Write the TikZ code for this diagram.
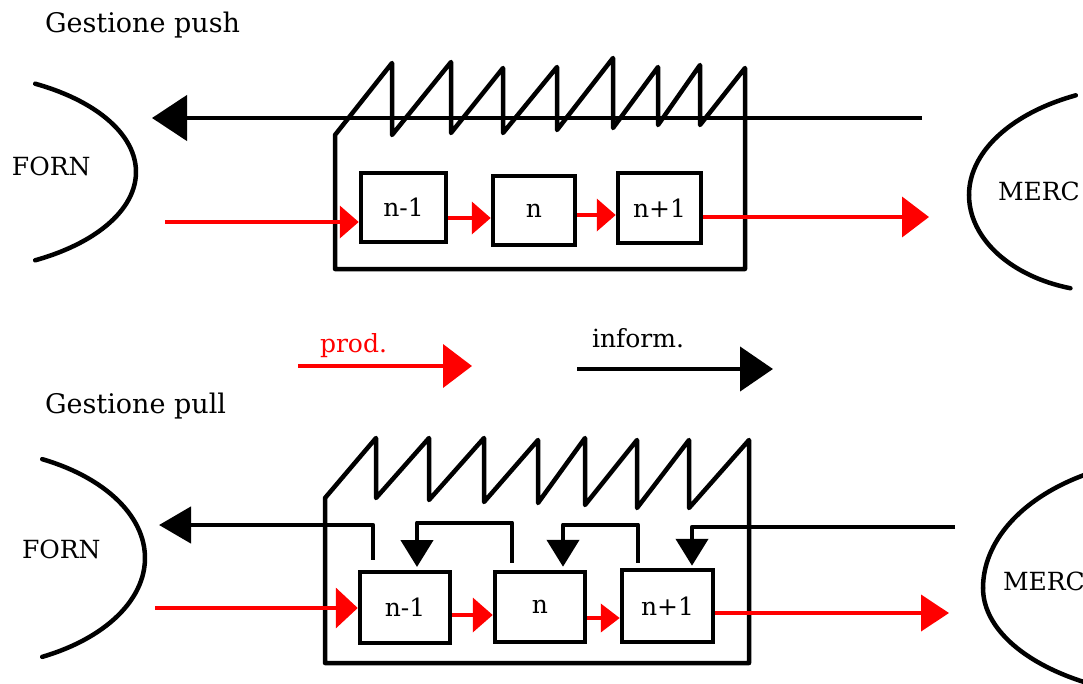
\documentclass[tikz,border=0pt]{standalone}
\usepackage{fontspec}
\setmainfont{DejaVu Serif}
\usetikzlibrary{arrows.meta}
\begin{document}
\begin{tikzpicture}[x=1pt,y=-1pt,
  every node/.style={font=\fontsize{25}{30}\selectfont, inner sep=0pt, outer sep=0pt},
  title/.style={anchor=base west, font=\fontsize{27}{32}\selectfont},
  wire/.style={line width=4.5pt, line join=round, line cap=round},
  stagebox/.style={draw, line width=4.5pt, inner sep=0pt, outer sep=2.25pt},
  prod/.style={draw=red, line width=4pt},
  info/.style={draw=black, line width=4.5pt, line join=round},
  ptipS/.style={-{Triangle[length=19pt,width=32pt]}},
  ptipL/.style={-{Triangle[length=27pt,width=40pt]}},
  itipS/.style={-{Triangle[length=27pt,width=32pt]}}]

\useasboundingbox (0,0) rectangle (1083,683);
\clip (0,0) rectangle (1083,683);

% ---------- titles and legend ----------
\node[title] (tpush) at (45,32) {Gestione push};
\node[title] (tpull) at (45,413) {Gestione pull};
\node[anchor=base west, text=red] (lprod) at (320,352) {prod.};
\node[anchor=base west] (linfo) at (592,347) {inform.};
\coordinate (lp1) at (298,366);
\coordinate (lp2) at (472,366);
\coordinate (li1) at (577,369);
\coordinate (li2) at (773,369);
\draw[prod, -{Triangle[length=29pt,width=43pt]}] (lp1) -- (lp2);
\draw[info, -{Triangle[length=33pt,width=44pt]}] (li1) -- (li2);

% ---------- push ----------
% supplier and market (elliptic arcs)
\draw[wire] plot[domain=-62:62, samples=60, variable=\t] ({-54+190*cos(\t)},{172+100*sin(\t)});
\node[anchor=base west] (forn1) at (12,175) {FORN};
\draw[wire] plot[domain=180:245, samples=40, variable=\t] ({1154+185*cos(\t)},{195+110*sin(\t)});
\draw[wire] plot[domain=106:180, samples=40, variable=\t] ({1109+140*cos(\t)},{195+97*sin(\t)});
\node[anchor=base west] (merc1) at (998,200) {MERC};

% factory outline with saw-tooth roof
\draw[wire] (745,269) -- (335,269) -- (335,135) -- (392,63) -- (392,135)
  -- (451,62) -- (451,133) -- (503,68) -- (503,133) -- (557,67) -- (557,130)
  -- (613,58) -- (613,128) -- (658,67) -- (658,125) -- (700,65) -- (700,125)
  -- (745,68) -- cycle;

% stages
\node[stagebox, minimum width=85pt, minimum height=69pt] (a1) at (403.5,207.5) {n-1};
\node[stagebox, minimum width=82pt, minimum height=69pt] (a2) at (534,210.5) {n};
\node[stagebox, minimum width=83pt, minimum height=70pt] (a3) at (659.5,208) {n+1};

% product flow
\coordinate (pin1) at (165,222);
\coordinate (pout1) at (929,217);
\draw[prod, ptipS] (pin1) -- (pin1 -| a1.west);
\draw[prod, ptipS] ([yshift=-10.5pt]a1.east) -- ([yshift=-7.5pt]a2.west);
\draw[prod, ptipS] ([yshift=-4.5pt]a2.east) -- ([yshift=-7pt]a3.west);
\draw[prod, ptipL] ([yshift=-9pt]a3.east) -- (pout1);

% information flow
\coordinate (iin1) at (922,118);
\coordinate (iout1) at (152,118);
\draw[info, -{Triangle[length=35pt,width=45pt]}] (iin1) -- (iout1);

% ---------- pull ----------
\draw[wire] plot[domain=-64:64, samples=60, variable=\t] ({-38+183*cos(\t)},{558+110*sin(\t)});
\node[anchor=base west] (forn2) at (22,558) {FORN};
\draw[wire] plot[domain=180:252, samples=40, variable=\t] ({1183+200*cos(\t)},{588+130*sin(\t)});
\draw[wire] plot[domain=112:180, samples=40, variable=\t] ({1193+210*cos(\t)},{588+110*sin(\t)});
\node[anchor=base west] (merc2) at (1003,590) {MERC};

\draw[wire] (749,663) -- (325,663) -- (325,498) -- (376,438) -- (376,498)
  -- (429,438) -- (429,500) -- (484,438) -- (484,502) -- (538,440) -- (538,503)
  -- (585,438) -- (585,505) -- (637,440) -- (637,508) -- (689,440) -- (689,508)
  -- (749,440) -- cycle;

\node[stagebox, minimum width=90pt, minimum height=71pt] (b1) at (405,607.5) {n-1};
\node[stagebox, minimum width=90pt, minimum height=70pt] (b2) at (540,607) {n};
\node[stagebox, minimum width=91pt, minimum height=72pt] (b3) at (667.5,606) {n+1};

\coordinate (pin2) at (155,608);
\coordinate (pout2) at (949,613);
\draw[prod, -{Triangle[length=22pt,width=40pt]}] (pin2) -- (pin2 -| b1.west);
\draw[prod, -{Triangle[length=20pt,width=34pt]}] ([yshift=-7.5pt]b1.east) -- ([yshift=-8pt]b2.west);
\draw[prod, -{Triangle[length=19pt,width=28pt]}] ([yshift=-11pt]b2.east) -- ([yshift=-12pt]b3.west);
\draw[prod, -{Triangle[length=28pt,width=36pt]}] ([yshift=-7pt]b3.east) -- (pout2);

% kanban signals travelling upstream
\coordinate (iout2) at (159,525);
\coordinate (iin2) at (955,527);
\draw[info, -{Triangle[length=32pt,width=36pt]}] ([xshift=-32pt,yshift=10pt]b1.north) |- (iout2);
\draw[info, itipS] ([xshift=-28pt,yshift=7pt]b2.north) -- ++(0,-40) -| ([xshift=12pt,yshift=2.75pt]b1.north);
\draw[info, itipS] ([xshift=-29.5pt,yshift=5pt]b3.north) -- ++(0,-38) -| ([xshift=23pt,yshift=3pt]b2.north);
\draw[info, itipS] (iin2) -| ([xshift=24.5pt,yshift=2pt]b3.north);

\end{tikzpicture}
\end{document}
